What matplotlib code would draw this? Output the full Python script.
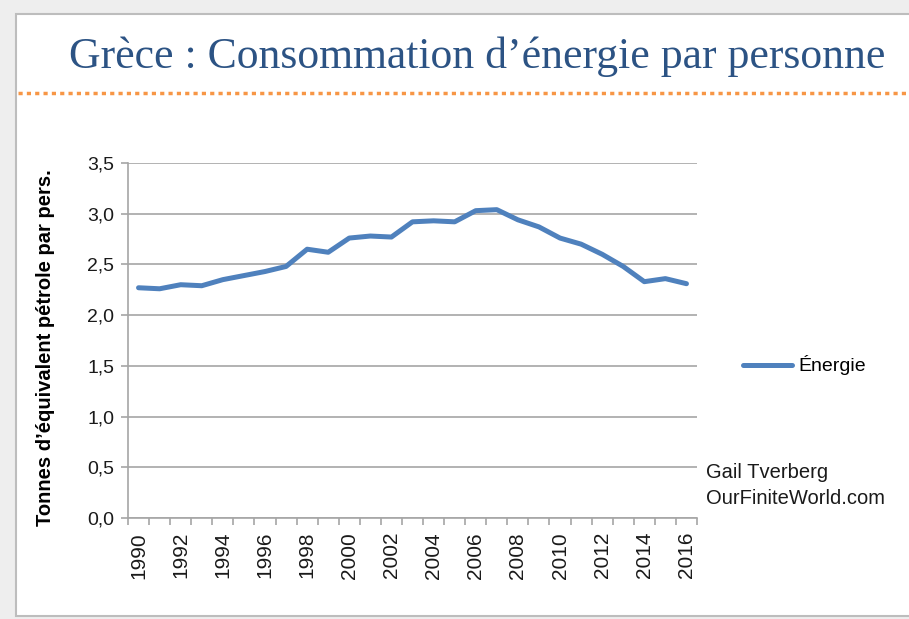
import matplotlib
matplotlib.use("Agg")
import matplotlib.pyplot as plt
import matplotlib.ticker as mticker
from matplotlib.patches import Rectangle
from matplotlib.lines import Line2D

# ── Data ──
years = list(range(1990, 2017))
energie = [2.27, 2.26, 2.30, 2.29, 2.35, 2.39, 2.43, 2.48, 2.65, 2.62,
           2.76, 2.78, 2.77, 2.92, 2.93, 2.92, 3.03, 3.04, 2.94, 2.87,
           2.76, 2.70, 2.60, 2.48, 2.33, 2.36, 2.31]
year_labels = [str(y) for y in years[::2]]
y_ticks = [0.0, 0.5, 1.0, 1.5, 2.0, 2.5, 3.0, 3.5]

# ── Colors ──
BLUE = "#4f81bd"
TITLE_BLUE = "#2c5384"
ORANGE = "#f79646"
GRID = "#a6a6a6"
BG = "#eeeeee"
TXT = "#1a1a1a"
SANS = ["Liberation Sans Narrow", "Liberation Sans", "DejaVu Sans"]

W, H = 909, 619
fig = plt.figure(figsize=(W / 100, H / 100), dpi=100)
fig.set_facecolor(BG)

# white panel with thin grey border
fig.patches.append(Rectangle((16 / W, 1 - 616 / H), (W + 10 - 16) / W,
                             (616 - 14) / H, transform=fig.transFigure,
                             facecolor="white", edgecolor="#bdbdbd",
                             linewidth=1.5, zorder=-10))

fig.text(477 / W, 1 - 57 / H, "Grèce : Consommation d\u2019énergie par personne",
         ha="center", va="center", fontsize=31.5, color=TITLE_BLUE,
         family=["Liberation Serif", "DejaVu Serif"])

# orange dotted separator
fig.add_artist(Line2D([18 / W, 1.0], [1 - 93 / H, 1 - 93 / H],
                      transform=fig.transFigure, color=ORANGE,
                      linewidth=2.5, linestyle=(0, (1.2, 1.2))))

ax = fig.add_axes([128 / W, 1 - 518 / H, (697 - 128) / W, (518 - 163) / H])
ax.patch.set_alpha(0)
x = list(range(len(years)))
ax.plot(x, energie, color=BLUE, linewidth=3.6, solid_capstyle="round",
        solid_joinstyle="round", zorder=3, label="Énergie")

ax.set_xlim(-0.5, len(years) - 0.5)
ax.set_ylim(0, 3.5)
ax.set_yticks(y_ticks)
ax.yaxis.set_major_formatter(
    mticker.FuncFormatter(lambda v, p: f"{v:.1f}".replace(".", ",")))
ax.grid(axis="y", color=GRID, linewidth=1.2)
ax.set_axisbelow(True)

# category axis: labels on every other year, ticks between categories
ax.set_xticks(x[::2])
ax.set_xticklabels(year_labels, rotation=90, fontsize=15, color=TXT,
                   family=SANS)
ax.set_xticks([i - 0.5 for i in range(len(years) + 1)], minor=True)
ax.tick_params(axis="x", which="major", length=0, pad=10)
ax.tick_params(axis="x", which="minor", length=5, color=GRID, width=1.2)
ax.tick_params(axis="y", length=5, color=GRID, width=1.2, labelsize=14,
               labelcolor=TXT, pad=5)
for lab in ax.get_yticklabels():
    lab.set_family(SANS)

for side in ("top", "right"):
    ax.spines[side].set_visible(False)
ax.spines["left"].set_color(GRID)
ax.spines["bottom"].set_color(GRID)
ax.spines["left"].set_linewidth(1.2)
ax.spines["bottom"].set_linewidth(1.2)

ax.set_ylabel("Tonnes d\u2019équivalent pétrole par pers.", fontsize=14.5,
              fontweight="bold", color="black", family=SANS)
ax.yaxis.set_label_coords(-0.128, 0.48)

# legend
ax.legend(loc="center left", bbox_to_anchor=(1.05, 0.43),
          frameon=False, handlelength=2.5, handletextpad=0.35,
          prop={"family": SANS, "size": 14})

fig.text(706 / W, 1 - 472 / H, "Gail Tverberg", ha="left", va="center",
         fontsize=14.5, color=TXT, family=SANS)
fig.text(706 / W, 1 - 498 / H, "OurFiniteWorld.com", ha="left", va="center",
         fontsize=14.5, color=TXT, family=SANS)

fig.savefig("out.png", dpi=100, facecolor=BG)
